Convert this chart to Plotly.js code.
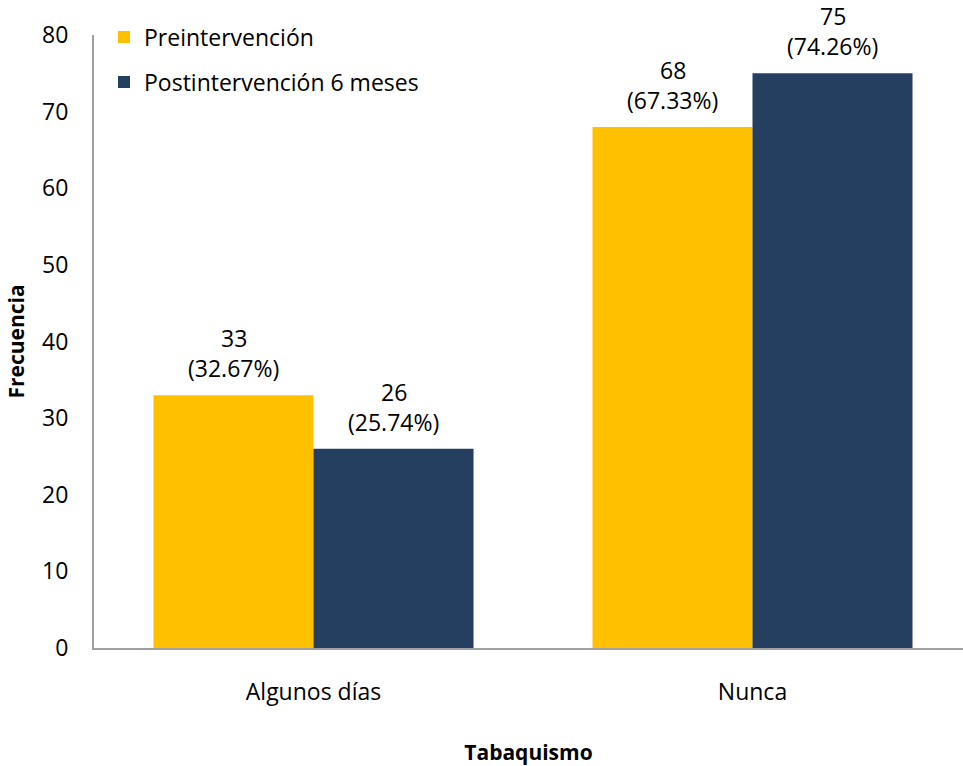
<!DOCTYPE html>
<html><head><meta charset="utf-8">
<script src="https://cdn.plot.ly/plotly-3.0.1.min.js"></script>
<style>body{margin:0;padding:0;background:#fff}#chart{width:963px;height:766px}</style>
</head><body><div id="chart"></div>
<script>
const categories = ["Algunos días", "Nunca"];
const seriesNames = ["Preintervención", "Postintervención 6 meses"];
const preValues = [33, 68];
const prePct = ["32.67%", "67.33%"];
const postValues = [26, 75];
const postPct = ["25.74%", "74.26%"];
const yTicks = [0, 10, 20, 30, 40, 50, 60, 70, 80];

const FONT = "'Open Sans', sans-serif";
const FS = 23;
const TFS = 21;
const traces = [
  {type:"bar", name:seriesNames[0], x:categories, y:preValues,
   marker:{color:"#FFC000"}, hoverinfo:"none", legend:"legend"},
  {type:"bar", name:seriesNames[1], x:categories, y:postValues,
   marker:{color:"#243F60"}, hoverinfo:"none", legend:"legend2"}
];

// data labels: value line and percentage line above each bar
const annotations = [];
[[preValues, prePct, -80], [postValues, postPct, 80]].forEach(([vals, pcts, dx]) => {
  categories.forEach((c, i) => {
    annotations.push({x:c, y:vals[i], xref:"x", yref:"y", text:String(vals[i]), showarrow:false,
      xshift:dx, yshift:57, yanchor:"middle", font:{size:FS, family:FONT, color:"#000"}});
    annotations.push({x:c, y:vals[i], xref:"x", yref:"y", text:"(" + pcts[i] + ")", showarrow:false,
      xshift:dx, yshift:27, yanchor:"middle", font:{size:FS, family:FONT, color:"#000"}});
  });
});

const legendBase = {x:0.0115, xanchor:"left", yanchor:"top", bgcolor:"rgba(0,0,0,0)",
  font:{size:FS, family:FONT, color:"#000"}, itemwidth:30};
const layout = {
  width:963, height:766,
  margin:{l:94, r:0, t:35, b:118},
  paper_bgcolor:"#fff", plot_bgcolor:"#fff",
  font:{family:FONT, size:FS, color:"#000"},
  barmode:"group", bargap:0.271, bargroupgap:0,
  showlegend:true,
  legend:Object.assign({}, legendBase, {y:1.0318}),
  legend2:Object.assign({}, legendBase, {y:0.9584}),
  annotations:annotations,
  xaxis:{range:[-0.5, 1.4795], showline:true, linecolor:"#A0A0A0", linewidth:2,
         ticks:"outside", ticklen:22, tickcolor:"rgba(0,0,0,0)", tickfont:{size:FS, family:FONT},
         title:{text:"<b>Tabaquismo</b>", font:{size:TFS, family:FONT}, standoff:40}},
  yaxis:{range:[0,80], tickvals:yTicks, showline:true, linecolor:"#A0A0A0", linewidth:2,
         showgrid:false, zeroline:false, ticks:"outside", ticklen:19, tickcolor:"rgba(0,0,0,0)",
         tickfont:{size:FS, family:FONT},
         title:{text:"<b>Frecuencia</b>", font:{size:TFS, family:FONT}, standoff:12}}
};
Plotly.newPlot("chart", traces, layout, {displayModeBar:false, staticPlot:true});
</script></body></html>
